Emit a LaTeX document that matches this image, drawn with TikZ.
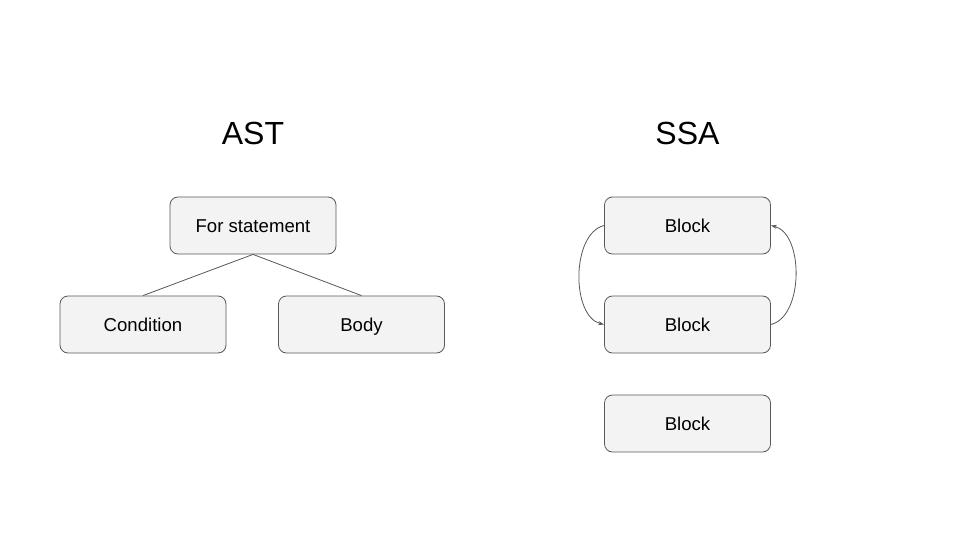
\documentclass[tikz,border=0pt]{standalone}
\usepackage{fontspec}
\setmainfont{Liberation Sans}
\usetikzlibrary{arrows.meta}
\definecolor{boxfill}{HTML}{F3F3F3}
\definecolor{boxline}{HTML}{595959}
\definecolor{linkline}{HTML}{595959}
\begin{document}
\begin{tikzpicture}[x=1pt,y=-1pt,
  box/.style={draw=boxline,fill=boxfill,rounded corners=8pt,minimum width=166pt,minimum height=57pt,inner sep=0pt,font=\fontsize{18.6}{22}\selectfont,text height=13.3pt,text depth=0pt,line width=0.8pt},
  title/.style={font=\fontsize{32}{38}\selectfont,inner sep=0pt,text height=23pt,text depth=0pt},
  link/.style={draw=linkline,line width=0.8pt},
  arr/.style={link,-{Stealth[length=6pt,width=4pt]}}]
\useasboundingbox (0,0) rectangle (960,540);
\fill[white] (0,0) rectangle (960,540);
\node[title] (ast) at (253,133) {AST};
\node[title] (ssa) at (687.5,133) {SSA};
\node[box] (for) at (253,225.5) {For statement};
\node[box] (cond) at (143,324.5) {Condition};
\node[box] (body) at (361.5,324.5) {Body};
\node[box] (b1) at (687.5,225.5) {Block};
\node[box] (b2) at (687.5,324.5) {Block};
\node[box] (b3) at (687.5,423.5) {Block};
\draw[link] (for.south) -- (cond.north);
\draw[link] (for.south) -- (body.north);
\draw[arr] (b1.west) .. controls +(-33,8) and +(-33,-8) .. (b2.west);
\draw[arr] (b2.east) .. controls +(33,-8) and +(33,8) .. (b1.east);
\end{tikzpicture}
\end{document}
